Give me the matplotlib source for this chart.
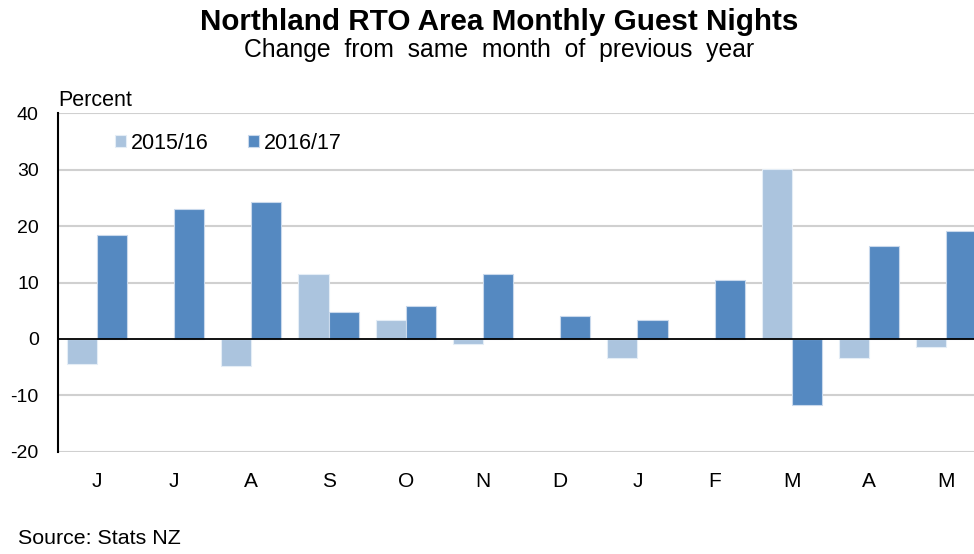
import matplotlib
matplotlib.use("Agg")
import matplotlib.pyplot as plt
import numpy as np

plt.rcParams['font.family'] = ['Liberation Sans', 'DejaVu Sans']

months = ["J", "J", "A", "S", "O", "N", "D", "J", "F", "M", "A", "M"]
series_names = ["2015/16", "2016/17"]
fy1516 = [-4.4, 0.0, -4.8, 11.5, 3.4, -0.9, 0.0, -3.4, 0.0, 30.2, -3.3, -1.5]
fy1617 = [18.5, 23.1, 24.2, 4.8, 5.9, 11.5, 4.1, 3.4, 10.5, -11.8, 16.4, 19.2]
yticks = [-20, -10, 0, 10, 20, 30, 40]

c_light = "#ABC4DE"
c_dark = "#5589C1"

fig = plt.figure(figsize=(9.74, 5.54), dpi=100)
ax = fig.add_axes([58.3/974, 102.3/554, 926.7/974, 338.4/554])

x = np.arange(len(months))
w = 0.39
ax.bar(x - w/2, fy1516, width=w, color=c_light, edgecolor="#E4EDF6", linewidth=0.8,
       label=series_names[0], zorder=3)
ax.bar(x + w/2, fy1617, width=w, color=c_dark, edgecolor="#C9D9EC", linewidth=0.8,
       label=series_names[1], zorder=3)

ax.set_xlim(-0.5, len(months) - 0.5)
ax.set_ylim(-20, 40)
ax.set_yticks(yticks)
ax.set_yticklabels([str(t) for t in yticks], fontsize=14)
ax.set_xticks(x)
ax.set_xticklabels(months, fontsize=15)
ax.tick_params(axis='both', length=0)
ax.tick_params(axis='x', pad=14.5)
ax.tick_params(axis='y', pad=14)

for t in yticks:
    if t != 0:
        ax.axhline(t, color="#D0D0D0", linewidth=1.5, zorder=1)
ax.axhline(0, color="black", linewidth=1.3, zorder=4)

for s in ["top", "right", "bottom"]:
    ax.spines[s].set_visible(False)
ax.spines["left"].set_linewidth(1.5)
ax.spines["left"].set_color("black")
ax.spines["left"].set_zorder(5)

leg = ax.legend(loc="upper left", bbox_to_anchor=(0.040, 1.0), ncol=2, frameon=False,
                fontsize=15.5, handlelength=0.52, handleheight=0.52, handletextpad=0.21,
                columnspacing=1.86)

fig.text(499/974, 1 - 22/554, "Northland RTO Area Monthly Guest Nights", ha="center", va="center",
         fontsize=21.3, fontweight="bold")
fig.text(499/974, 1 - 50/554, "Change  from  same  month  of  previous  year", ha="center", va="center",
         fontsize=17.8)
fig.text(58/974, 1 - 101/554, "Percent", ha="left", va="center", fontsize=15.5)
fig.text(18/974, 1 - 538/554, "Source: Stats NZ", ha="left", va="center", fontsize=15.4)

fig.savefig("out.png", dpi=100)
